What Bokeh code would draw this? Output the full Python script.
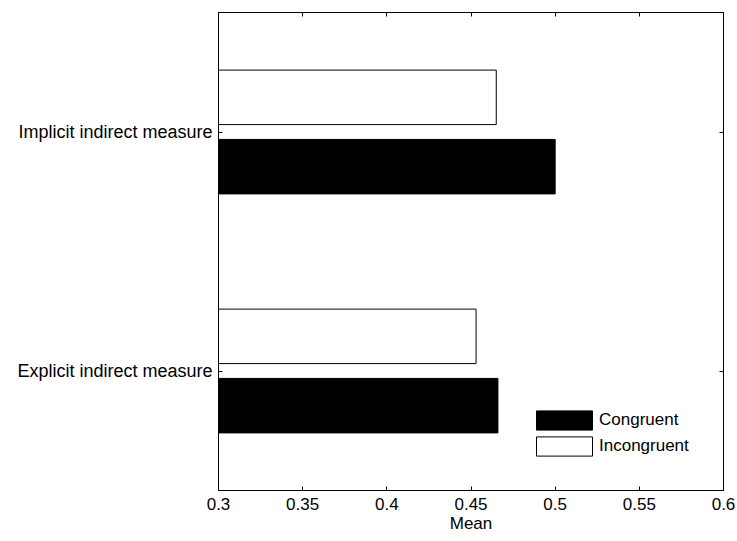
from bokeh.plotting import figure
from bokeh.models import (Range1d, FixedTicker, LinearAxis, ColumnDataSource,
                          Legend, LegendItem, CustomJSTickFormatter)
from bokeh.transform import dodge
from bokeh.embed import file_html
from bokeh.resources import INLINE

# ---- data ----
categories = ["Explicit indirect measure", "Implicit indirect measure"]
cat_pos = [1, 2]
congruent = [0.466, 0.500]
incongruent = [0.453, 0.465]
xticks = [0.3, 0.35, 0.4, 0.45, 0.5, 0.55, 0.6]
xtick_labels = ["0.3", "0.35", "0.4", "0.45", "0.5", "0.55", "0.6"]
x_label = "Mean"
series_names = ["Congruent", "Incongruent"]

FONT = "Liberation Sans"
FS = "17px"

src = ColumnDataSource(dict(y=cat_pos, cong=congruent, incong=incongruent))

p = figure(width=737, height=541, output_backend="svg", toolbar_location=None,
           x_range=Range1d(0.3, 0.6), y_range=Range1d(0.5, 2.5),
           min_border_left=218, min_border_right=14, min_border_top=12,
           min_border_bottom=51)
p.background_fill_color = "white"
p.border_fill_color = "white"
p.outline_line_color = "black"
p.outline_line_width = 1
p.xgrid.visible = False
p.ygrid.visible = False

r_cong = p.hbar(y=dodge("y", -0.145), height=0.228, left=0, right="cong",
                source=src, fill_color="black", line_color="black", line_width=1)
r_inc = p.hbar(y=dodge("y", 0.145), height=0.228, left=0, right="incong",
               source=src, fill_color="white", line_color="black", line_width=1)

def style_axis(ax):
    ax.major_tick_in = 4
    ax.major_tick_out = 0
    ax.minor_tick_line_color = None
    ax.axis_line_color = "black"
    ax.major_tick_line_color = "black"
    ax.major_label_text_font = FONT
    ax.major_label_text_font_size = FS
    ax.major_label_text_color = "black"
    ax.axis_label_text_font = FONT
    ax.axis_label_text_font_size = FS
    ax.axis_label_text_font_style = "normal"
    ax.axis_label_text_color = "black"

xax = p.xaxis[0]
style_axis(xax)
xax.ticker = FixedTicker(ticks=xticks)
xax.major_label_overrides = {t: l for t, l in zip(xticks, xtick_labels)}
xax.major_label_standoff = 7
xax.axis_label = x_label
xax.axis_label_standoff = 1

yax = p.yaxis[0]
style_axis(yax)
yax.ticker = FixedTicker(ticks=cat_pos)
yax.major_label_overrides = {c: n for c, n in zip(cat_pos, categories)}
yax.major_label_standoff = 6
yax.major_label_text_font_size = "18px"

blank = CustomJSTickFormatter(code="return ''")

top = LinearAxis(ticker=FixedTicker(ticks=xticks), formatter=blank)
style_axis(top)
top.major_label_standoff = 0
p.add_layout(top, "above")

right = LinearAxis(ticker=FixedTicker(ticks=cat_pos), formatter=blank)
style_axis(right)
right.major_label_standoff = 0
p.add_layout(right, "right")

legend = Legend(items=[LegendItem(label=series_names[0], renderers=[r_cong]),
                       LegendItem(label=series_names[1], renderers=[r_inc])],
                location=(311, 32))
legend.padding = 0
legend.margin = 0
legend.spacing = 2
legend.label_standoff = 0
legend.glyph_width = 70
legend.glyph_height = 24
legend.label_height = 20
legend.label_text_font = FONT
legend.label_text_font_size = FS
legend.label_text_color = "black"
legend.background_fill_alpha = 0
legend.border_line_alpha = 0
p.add_layout(legend, "center")

open("out.html", "w").write(file_html(p, INLINE))
